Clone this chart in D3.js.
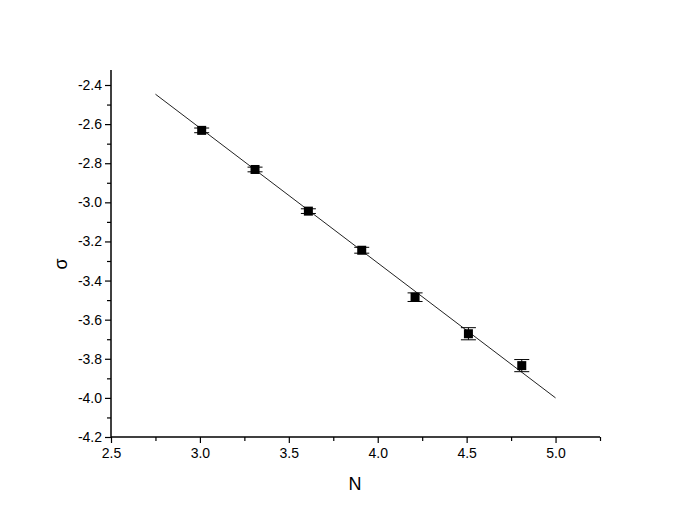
<!DOCTYPE html>
<html><head><meta charset="utf-8">
<script src="https://cdn.jsdelivr.net/npm/d3@7"></script>
<style>body{margin:0;background:#fff}svg text{font-family:"Liberation Sans",Arial,sans-serif}</style>
</head><body><svg id="c" width="692" height="530"></svg>
<script>
const nValues = [3.01, 3.31, 3.61, 3.91, 4.21, 4.51, 4.81];
const sigmaValues = [-2.632, -2.832, -3.045, -3.245, -3.485, -3.672, -3.835];
const sigmaErrors = [0.012, 0.012, 0.012, 0.015, 0.022, 0.031, 0.031];
const fitN = [2.75, 5.0];
const fitSigma = [-2.447, -4.0];
const xTicks = [2.5, 3.0, 3.5, 4.0, 4.5, 5.0];
const yTicks = [-2.4, -2.6, -2.8, -3.0, -3.2, -3.4, -3.6, -3.8, -4.0, -4.2];

const svg = d3.select("#c");
const x = d3.scaleLinear().domain([2.5, 5.25]).range([111, 600]);
const y = d3.scaleLinear().domain([-4.2, -2.4]).range([437, 85]);

// fit line
svg.append("line")
  .attr("x1", x(fitN[0])).attr("y1", y(fitSigma[0]))
  .attr("x2", x(fitN[1])).attr("y2", y(fitSigma[1]))
  .attr("stroke", "#222").attr("stroke-width", 1);

// error bars
const g = svg.append("g");
nValues.forEach((n, i) => {
  const cx = x(n), lo = y(sigmaValues[i] - sigmaErrors[i]), hi = y(sigmaValues[i] + sigmaErrors[i]);
  g.append("line").attr("x1", cx).attr("x2", cx).attr("y1", lo).attr("y2", hi).attr("stroke", "#000").attr("stroke-width", 1);
  [lo, hi].forEach(yy => g.append("line").attr("x1", cx - 7.5).attr("x2", cx + 7.5).attr("y1", yy).attr("y2", yy).attr("stroke", "#000").attr("stroke-width", 1));
  g.append("rect").attr("x", cx - 4.5).attr("y", y(sigmaValues[i]) - 4.5).attr("width", 9).attr("height", 9).attr("fill", "#000");
});

const fmt = d => d.toFixed(1);
// axes
const yAxis = d3.axisLeft(y).tickValues(yTicks).tickFormat(fmt).tickSize(6).tickPadding(3);
const yMinor = d3.axisLeft(y).tickValues(d3.range(-4.1, -2.3, 0.2)).tickFormat("").tickSize(4);
const xAxis = d3.axisBottom(x).tickValues(xTicks).tickFormat(fmt).tickSize(6).tickPadding(5);
const xMinor = d3.axisBottom(x).tickValues([2.75, 3.25, 3.75, 4.25, 4.75, 5.25]).tickFormat("").tickSize(4);

function style(sel){
  sel.selectAll(".domain").remove();
  sel.selectAll("line").attr("stroke", "#000").attr("stroke-width", 1.2);
  sel.selectAll("text").attr("font-size", 14).attr("fill", "#000").attr("font-family", "Liberation Sans, Arial, sans-serif");
}
svg.append("g").attr("transform", "translate(111,0)").call(yAxis).call(style);
svg.append("g").attr("transform", "translate(111,0)").call(yMinor).call(style);
svg.append("g").attr("transform", "translate(0,437)").call(xAxis).call(style);
svg.append("g").attr("transform", "translate(0,437)").call(xMinor).call(style);

svg.append("line").attr("x1", 111).attr("x2", 111).attr("y1", 70).attr("y2", 437).attr("stroke", "#000").attr("stroke-width", 1.5);
svg.append("line").attr("x1", 111).attr("x2", 600).attr("y1", 437).attr("y2", 437).attr("stroke", "#000").attr("stroke-width", 1.5);

svg.append("text").attr("x", 355).attr("y", 490).attr("text-anchor", "middle").attr("font-size", 18).text("N");
svg.append("text").attr("transform", "translate(67,264) rotate(-90)").attr("text-anchor", "middle").attr("font-size", 18).text("σ");
</script></body></html>
